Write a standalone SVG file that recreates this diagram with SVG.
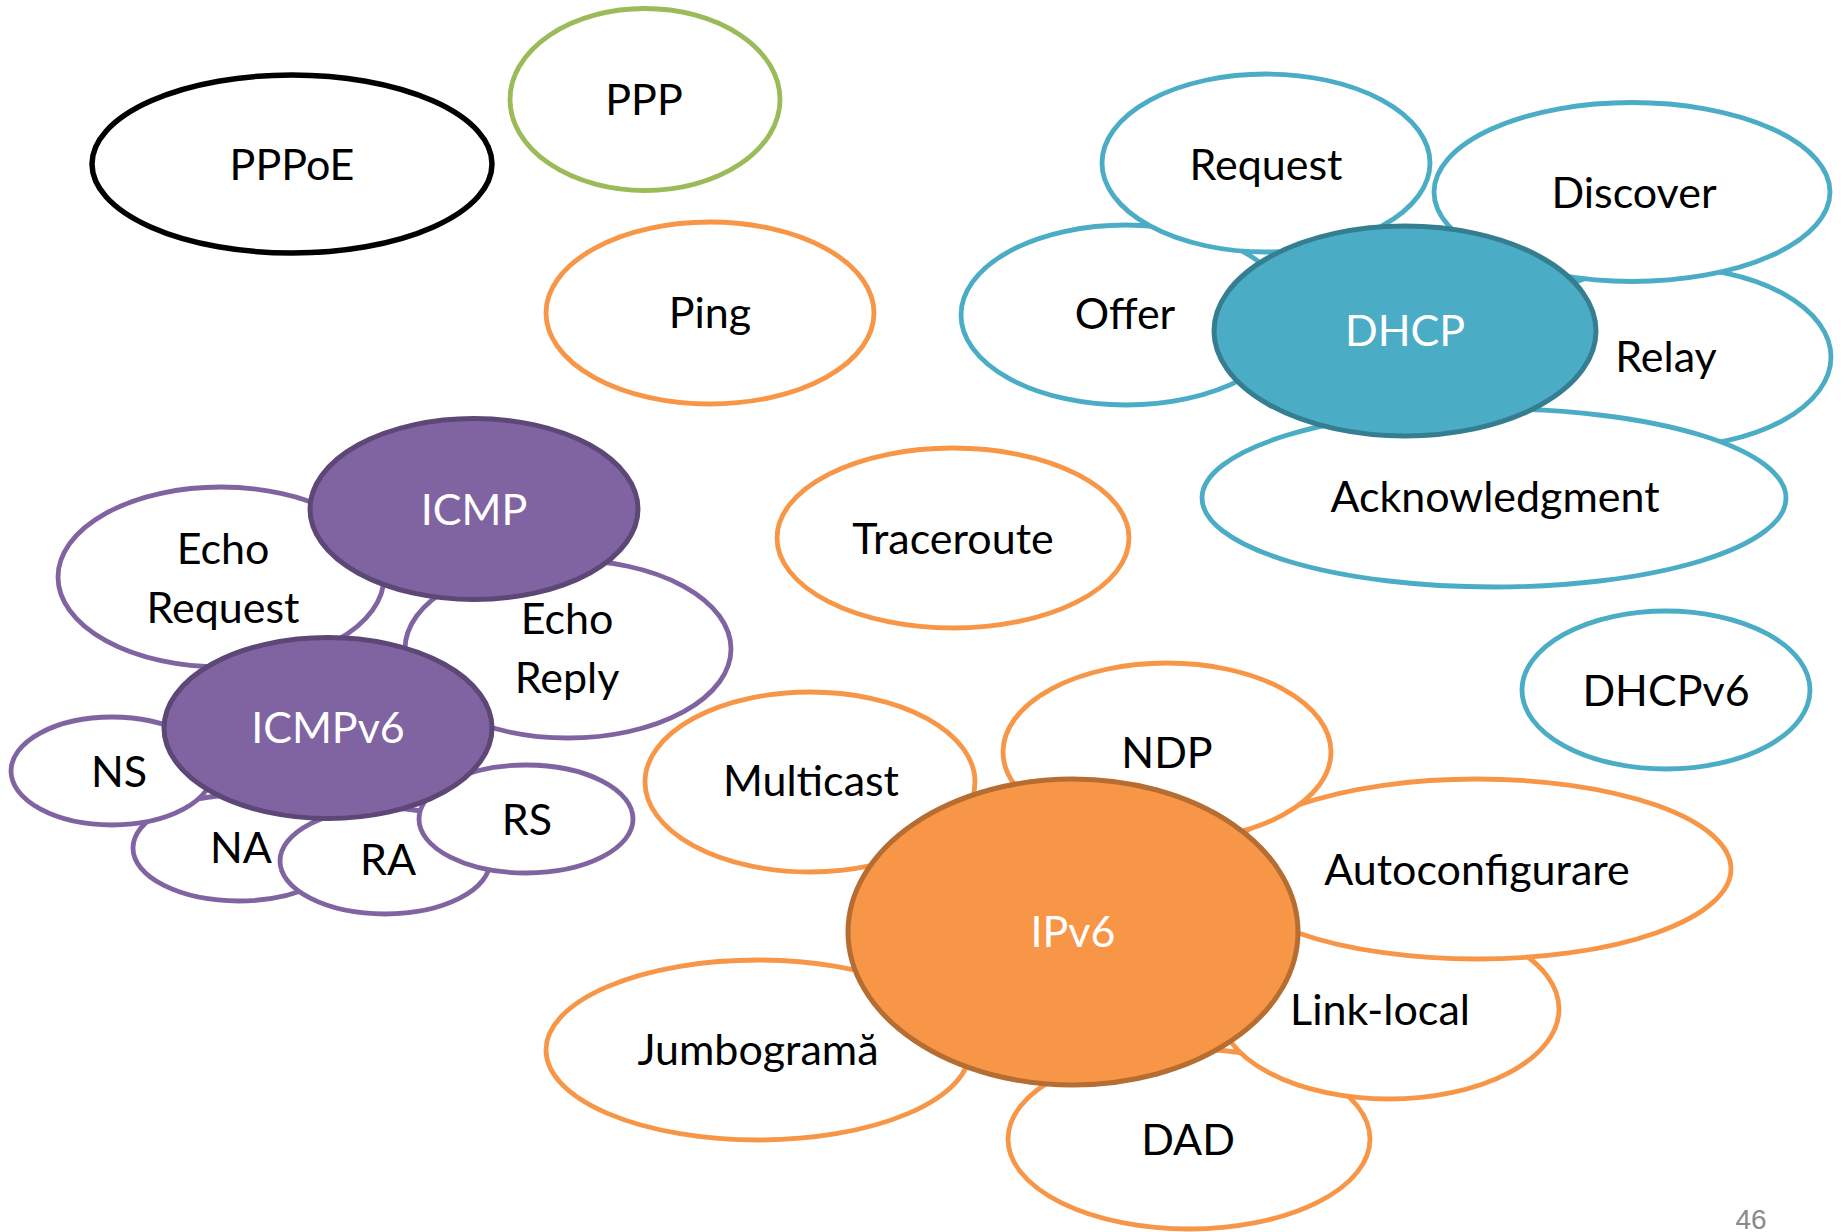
<svg xmlns="http://www.w3.org/2000/svg" width="1843" height="1232" viewBox="0 0 1843 1232">
<style>
  text { font-family: Lato, "Open Sans", "Liberation Sans", sans-serif; font-size: 43px; text-anchor: middle; fill: #000; }
  text.w { fill: #fff; }
  .e { fill: #fff; stroke-width: 4.8; }
  .blue { stroke: #4BACC6; }
  .purple { stroke: #8064A2; }
  .orange { stroke: #F79646; }
  .green { stroke: #9BBB59; }
  .black { stroke: #000; stroke-width: 5.5; }
  .dhcp { fill: #4BACC6; stroke: #357D91; stroke-width: 5; }
  .icmp { fill: #8064A2; stroke: #5C4776; stroke-width: 5; }
  .ipv6 { fill: #F79646; stroke: #B66D31; stroke-width: 5; }
  .pg { font-family: "Liberation Sans", Arial, sans-serif; font-size: 28px; fill: #8A8A8A; }
</style>
<rect width="1843" height="1232" fill="#fff"/>
<g id="connectors"/>

<g id="pppoe"><ellipse class="e black" cx="292" cy="164" rx="200" ry="89"/><text x="292" y="180">PPPoE</text></g>
<g id="ppp"><ellipse class="e green" cx="645" cy="99.5" rx="135" ry="91"/><text x="644" y="115">PPP</text></g>
<g id="ping"><ellipse class="e orange" cx="710" cy="313" rx="164" ry="91"/><text x="710" y="328">Ping</text></g>
<g id="traceroute"><ellipse class="e orange" cx="953" cy="538" rx="176" ry="90"/><text x="953" y="554">Traceroute</text></g>

<g id="echo-request"><ellipse class="e purple" cx="221" cy="577" rx="163" ry="90"/><text x="223" y="564">Echo</text><text x="223" y="623">Request</text></g>
<g id="echo-reply"><ellipse class="e purple" cx="568" cy="649" rx="163" ry="89"/><text x="567" y="634">Echo</text><text x="567" y="693">Reply</text></g>
<g id="na"><ellipse class="e purple" cx="239" cy="848" rx="106" ry="53"/><text x="241" y="863">NA</text></g>
<g id="ns"><ellipse class="e purple" cx="112" cy="771" rx="101" ry="54"/><text x="119" y="787">NS</text></g>
<g id="ra"><ellipse class="e purple" cx="385" cy="861" rx="105" ry="53"/><text x="388" y="875">RA</text></g>
<g id="rs"><ellipse class="e purple" cx="526" cy="819" rx="107" ry="54"/><text x="527" y="835">RS</text></g>
<g id="icmp"><ellipse class="icmp" cx="474" cy="509" rx="164" ry="90.5"/><text class="w" x="474" y="525">ICMP</text></g>
<g id="icmpv6"><ellipse class="icmp" cx="328" cy="728" rx="164" ry="90.5"/><text class="w" x="328" y="743">ICMPv6</text></g>

<g id="offer"><ellipse class="e blue" cx="1126" cy="315" rx="165" ry="90"/><text x="1125" y="329">Offer</text></g>
<g id="request"><ellipse class="e blue" cx="1266" cy="163" rx="164" ry="89"/><text x="1266" y="180">Request</text></g>
<g id="relay"><ellipse class="e blue" cx="1666" cy="357" rx="165" ry="90"/><text x="1666" y="372">Relay</text></g>
<g id="discover"><ellipse class="e blue" cx="1632" cy="192" rx="198" ry="89.5"/><text x="1634" y="208">Discover</text></g>
<g id="acknowledgment"><ellipse class="e blue" cx="1494" cy="498" rx="292" ry="89"/><text x="1495" y="512">Acknowledgment</text></g>
<g id="dhcp"><ellipse class="dhcp" cx="1405" cy="331" rx="191" ry="105"/><text class="w" x="1405" y="346">DHCP</text></g>
<g id="dhcpv6"><ellipse class="e blue" cx="1666" cy="690" rx="144" ry="79"/><text x="1666" y="706">DHCPv6</text></g>

<g id="jumbograma"><ellipse class="e orange" cx="758" cy="1050" rx="212" ry="90"/><text x="758" y="1065">Jumbogramă</text></g>
<g id="dad"><ellipse class="e orange" cx="1189" cy="1139" rx="181" ry="90"/><text x="1188" y="1155">DAD</text></g>
<g id="link-local"><ellipse class="e orange" cx="1389" cy="1009" rx="170" ry="90"/><text x="1380" y="1025">Link-local</text></g>
<g id="autoconfigurare"><ellipse class="e orange" cx="1477" cy="869" rx="254" ry="90"/><text x="1477" y="885">Autoconfigurare</text></g>
<g id="ndp"><ellipse class="e orange" cx="1167" cy="752" rx="164" ry="89"/><text x="1167" y="768">NDP</text></g>
<g id="multicast"><ellipse class="e orange" cx="810" cy="782" rx="165" ry="90"/><text x="811" y="796">Multicast</text></g>
<g id="ipv6"><ellipse class="ipv6" cx="1073" cy="932" rx="225" ry="153"/><text class="w" x="1073" y="947">IPv6</text></g>

<text class="pg" x="1751" y="1229">46</text>
</svg>
